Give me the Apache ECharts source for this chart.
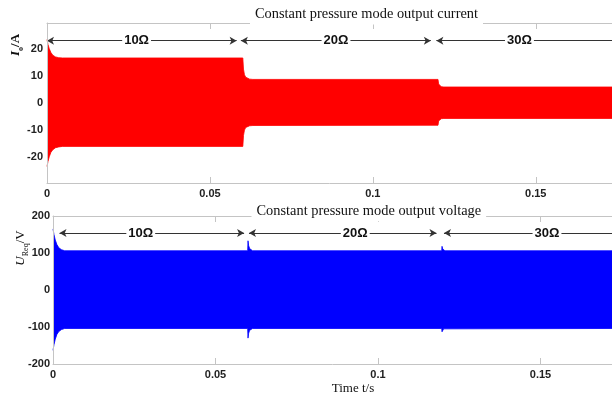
<!DOCTYPE html>
<html>
<head>
<meta charset="utf-8">
<script src="https://cdn.jsdelivr.net/npm/echarts@6/dist/echarts.min.js"></script>
<style>
html, body { margin: 0; padding: 0; background: #fff; }
#chart { width: 612px; height: 397px; }
</style>
</head>
<body>
<div id="chart"></div>
<script>
// output current envelope (A)
const curT     = [0, 0.0003, 0.0007, 0.0012, 0.0018, 0.0026, 0.0036, 0.0048, 0.0601, 0.0603, 0.0606, 0.0610, 0.0615, 0.0622, 0.0632, 0.1200, 0.1202, 0.1205, 0.1210, 0.1218, 0.1734];
const curUpper = [23.4, 21.6, 20.0, 18.6, 17.6, 17.0, 16.7, 16.6, 16.6, 12.5, 10.4, 9.5, 9.0, 8.8, 8.7, 8.7, 7.0, 6.3, 6.0, 5.9, 5.9];
const curLower = [-23.4, -21.6, -19.8, -18.2, -17.2, -16.5, -16.2, -16.0, -16.0, -12.0, -10.0, -9.0, -8.6, -8.4, -8.3, -8.2, -6.6, -6.0, -5.8, -5.7, -5.7];

// output voltage envelope (V)
const volT     = [0, 0.0003, 0.0007, 0.0012, 0.0018, 0.0026, 0.0036, 0.0599, 0.0600, 0.0602, 0.0605, 0.0609, 0.0614, 0.1196, 0.1197, 0.1199, 0.1202, 0.1206, 0.1720];
const volUpper = [165, 150, 135, 123, 114, 109, 106, 106, 133, 120, 112, 108, 106, 106, 118, 111, 108, 106, 106];
const volLower = [-163, -148, -133, -120, -112, -107, -104, -104, -130, -117, -109, -105, -104, -104, -113, -108, -105, -104, -104];

// load stage annotations: arrow [start, end] and label position
const loadNames  = ['10Ω', '20Ω', '30Ω'];
const curArrows  = [[0, 0.0582], [0.0595, 0.1178], [0.1195, 0.1734]];
const curLabelT  = [0.0275, 0.0887, 0.145];
const curArrowY  = 23;
const volArrows  = [[0.002, 0.0588], [0.0603, 0.118], [0.1203, 0.1720]];
const volLabelT  = [0.027, 0.093, 0.152];
const volArrowY  = 154;

const axisGray = '#c4c4c4';
const tickFont = { color: '#222', fontSize: 11, fontWeight: 'bold', fontFamily: 'Liberation Sans' };

// upper envelope filled up from the axis bottom, lower envelope covers the part below in white
function bandSeries(grid, t, lo, hi, color, arrows, labelT, arrowY) {
  const upper = t.map((v, i) => [v, hi[i]]);
  const lower = t.map((v, i) => [v, lo[i]]);
  const lines = arrows.map((a, i) => [
    { coord: [a[0], arrowY], symbol: 'arrow' },
    { coord: [a[1], arrowY], symbol: i === arrows.length - 1 ? 'none' : 'arrow' }
  ]);
  const labels = labelT.map((v, i) => ({ coord: [v, arrowY], value: loadNames[i] }));
  return [
    {
      type: 'line', xAxisIndex: grid * 2, yAxisIndex: grid, z: 1,
      data: upper, symbol: 'none',
      lineStyle: { color: color, width: 0.8 },
      areaStyle: { color: color, opacity: 1, origin: 'start' }
    },
    {
      type: 'line', xAxisIndex: grid * 2, yAxisIndex: grid, z: 2,
      data: lower, symbol: 'none',
      lineStyle: { color: color, width: 0.8 },
      areaStyle: { color: '#fff', opacity: 1, origin: 'start' },
      markLine: {
        silent: true, z: 4, symbolSize: [6, 7],
        lineStyle: { color: '#333', width: 1, type: 'solid' },
        label: { show: false }, data: lines
      },
      markPoint: {
        silent: true, z: 6, symbol: 'circle', symbolSize: 1,
        itemStyle: { color: 'rgba(0,0,0,0)' },
        label: {
          show: true, position: 'inside', formatter: '{c}',
          color: '#111', fontSize: 13, fontWeight: 'bold', fontFamily: 'Liberation Sans',
          backgroundColor: '#fff', padding: [1, 2]
        },
        data: labels
      }
    }
  ];
}

function xAxes(grid, max) {
  return [
    {
      gridIndex: grid, type: 'value', min: 0, max: max, interval: 0.05, z: 5,
      axisLine: { show: true, onZero: false, lineStyle: { color: axisGray } },
      axisTick: { show: true, inside: true, length: 6, lineStyle: { color: axisGray } },
      axisLabel: Object.assign({ margin: 5, showMaxLabel: false }, tickFont),
      splitLine: { show: false }
    },
    {
      gridIndex: grid, type: 'value', position: 'top', min: 0, max: max, interval: 0.05, z: 5,
      axisLine: { show: true, onZero: false, lineStyle: { color: axisGray } },
      axisTick: { show: true, inside: true, length: 6, lineStyle: { color: axisGray } },
      axisLabel: { show: false }, splitLine: { show: false }
    }
  ];
}

const chart = echarts.init(document.getElementById('chart'));
chart.setOption({
  animation: false,
  title: [
    {
      text: 'Constant pressure mode output current', left: 250, top: 4.6, z: 8,
      backgroundColor: '#fff', padding: [2, 5],
      textStyle: { fontFamily: 'Liberation Serif', fontSize: 14.4, fontWeight: 'normal', color: '#111', lineHeight: 16 }
    },
    {
      text: 'Constant pressure mode output voltage', left: 251.5, top: 201.3, z: 8,
      backgroundColor: '#fff', padding: [2, 5],
      textStyle: { fontFamily: 'Liberation Serif', fontSize: 14.4, fontWeight: 'normal', color: '#111', lineHeight: 16 }
    }
  ],
  grid: [
    { left: 47, top: 23, right: 0, height: 160 },
    { left: 53, top: 216, right: 0, height: 148 }
  ],
  xAxis: xAxes(0, curT[curT.length - 1]).concat(xAxes(1, volT[volT.length - 1])),
  yAxis: [
    {
      gridIndex: 0, type: 'value', min: -29.5, max: 29.5, z: 5,
      axisLine: { show: true, onZero: false, lineStyle: { color: axisGray } },
      axisTick: { show: false },
      axisLabel: Object.assign({ margin: 4, showMinLabel: false, showMaxLabel: false }, tickFont),
      splitLine: { show: false }
    },
    {
      gridIndex: 1, type: 'value', min: -200, max: 200, interval: 100, z: 5,
      axisLine: { show: true, onZero: false, lineStyle: { color: axisGray } },
      axisTick: { show: false },
      axisLabel: Object.assign({ margin: 3 }, tickFont),
      splitLine: { show: false }
    }
  ],
  graphic: [
    {
      type: 'text', x: 16, y: 45, rotation: Math.PI / 2,
      style: {
        text: '{a|I}{b|o}{c|/A}', align: 'center', verticalAlign: 'middle',
        rich: {
          a: { fontFamily: 'Liberation Serif', fontSize: 13, fontStyle: 'italic', fontWeight: 'bold', fill: '#111', lineHeight: 18, verticalAlign: 'middle' },
          b: { fontFamily: 'Liberation Serif', fontSize: 8, fontWeight: 'bold', fill: '#111', lineHeight: 18, verticalAlign: 'bottom' },
          c: { fontFamily: 'Liberation Serif', fontSize: 13, fontWeight: 'bold', fill: '#111', lineHeight: 18, verticalAlign: 'middle' }
        }
      }
    },
    {
      type: 'text', x: 21, y: 248, rotation: Math.PI / 2,
      style: {
        text: '{a|U}{b|Req}{c|/V}', align: 'center', verticalAlign: 'middle',
        rich: {
          a: { fontFamily: 'Liberation Serif', fontSize: 13, fontStyle: 'italic', fill: '#111', lineHeight: 18, verticalAlign: 'middle' },
          b: { fontFamily: 'Liberation Serif', fontSize: 8, fill: '#111', lineHeight: 18, verticalAlign: 'bottom' },
          c: { fontFamily: 'Liberation Serif', fontSize: 13, fill: '#111', lineHeight: 18, verticalAlign: 'middle' }
        }
      }
    },
    {
      type: 'text', x: 353, y: 389,
      style: { text: 'Time t/s', align: 'center', verticalAlign: 'middle', fontFamily: 'Liberation Serif', fontSize: 13, fill: '#111' }
    }
  ],
  series: bandSeries(0, curT, curLower, curUpper, '#ff0000', curArrows, curLabelT, curArrowY)
    .concat(bandSeries(1, volT, volLower, volUpper, '#0000ff', volArrows, volLabelT, volArrowY))
});
</script>
</body>
</html>
